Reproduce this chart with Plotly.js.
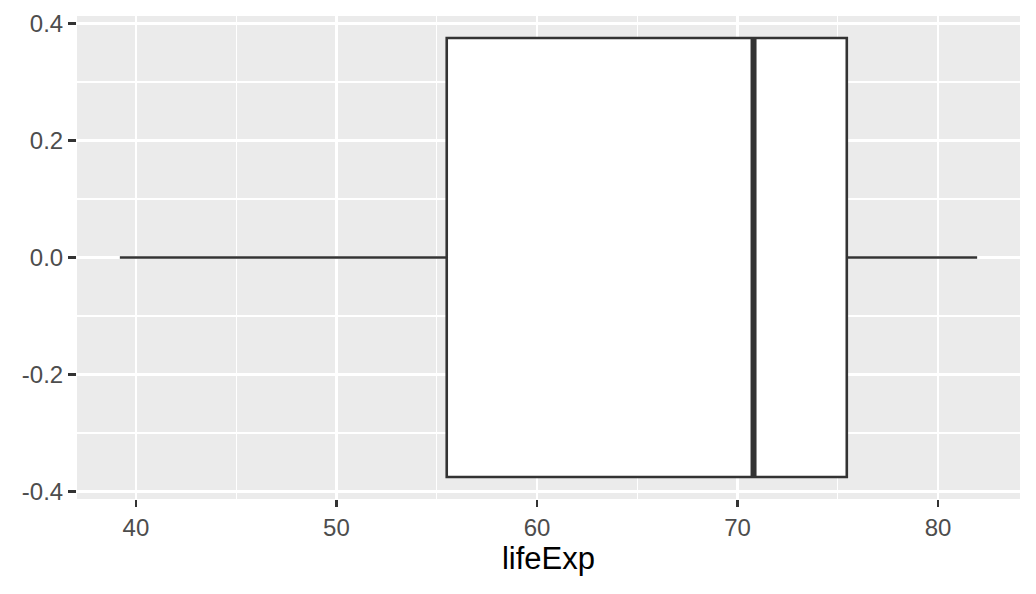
<!DOCTYPE html>
<html>
<head>
<meta charset="utf-8">
<script src="https://cdn.plot.ly/plotly-3.0.1.min.js"></script>
<style>
  html, body { margin: 0; padding: 0; background: #ffffff; }
  #chart { width: 1036px; height: 594px; }
</style>
</head>
<body>
<div id="chart"></div>
<script>
// ---- data ----
const boxPosition = [0];
const lowerFence = [39.2];
const q1 = [55.5];
const median = [70.8];
const q3 = [75.45];
const upperFence = [81.95];

const xTickVals = [40, 50, 60, 70, 80];
const xTickText = ['40', '50', '60', '70', '80'];
const yTickVals = [-0.4, -0.2, 0.0, 0.2, 0.4];
const yTickText = ['-0.4', '-0.2', '0.0', '0.2', '0.4'];
const xTitle = 'lifeExp';

// ---- style ----
const BOX_WIDTH = 0.75;
const LINE_COLOR = '#333333';
const FONT = 'Liberation Sans, Arial, Helvetica, sans-serif';

const boxTrace = {
  type: 'box',
  orientation: 'h',
  y: boxPosition,
  q1: q1,
  median: median,
  q3: q3,
  lowerfence: lowerFence,
  upperfence: upperFence,
  width: BOX_WIDTH,
  whiskerwidth: 0,
  boxpoints: false,
  fillcolor: '#ffffff',
  line: { color: LINE_COLOR, width: 2.6 },
  hoverinfo: 'skip',
  showlegend: false
};

// thicker median line (ggplot fatten)
const medianTrace = {
  type: 'scatter',
  mode: 'lines',
  x: [median[0], median[0]],
  y: [boxPosition[0] - BOX_WIDTH / 2, boxPosition[0] + BOX_WIDTH / 2],
  line: { color: LINE_COLOR, width: 6 },
  hoverinfo: 'skip',
  showlegend: false
};

const xmin = Math.min(...lowerFence), xmax = Math.max(...upperFence);
const xpad = (xmax - xmin) * 0.05;
const ypad = BOX_WIDTH * 0.05;

const layout = {
  width: 1036,
  height: 594,
  margin: { l: 77, r: 16, t: 16, b: 95 },
  paper_bgcolor: '#ffffff',
  plot_bgcolor: '#EBEBEB',
  font: { family: FONT, color: '#4D4D4D', size: 24 },
  xaxis: {
    range: [xmin - xpad, xmax + xpad],
    tickmode: 'array',
    tickvals: xTickVals,
    ticktext: xTickText,
    ticks: 'outside',
    ticklen: 7,
    tickwidth: 2.6,
    tickcolor: LINE_COLOR,
    tickfont: { family: FONT, size: 24, color: '#4D4D4D' },
    showgrid: true,
    gridcolor: '#ffffff',
    gridwidth: 2.6,
    minor: { dtick: 5, tick0: 0, showgrid: true, gridcolor: '#ffffff', gridwidth: 1.3 },
    zeroline: false,
    showline: false,
    title: { text: xTitle, font: { family: FONT, size: 31, color: '#000000' }, standoff: 6 }
  },
  yaxis: {
    range: [-0.375 - ypad, 0.375 + ypad],
    tickmode: 'array',
    tickvals: yTickVals,
    ticktext: yTickText,
    ticks: 'outside',
    ticklen: 8,
    tickwidth: 2.6,
    tickcolor: LINE_COLOR,
    tickfont: { family: FONT, size: 24, color: '#4D4D4D' },
    showgrid: true,
    gridcolor: '#ffffff',
    gridwidth: 2.6,
    minor: { dtick: 0.1, tick0: 0, showgrid: true, gridcolor: '#ffffff', gridwidth: 1.3 },
    zeroline: false,
    showline: false
  },
  hovermode: false
};

Plotly.newPlot('chart', [boxTrace, medianTrace], layout, { displayModeBar: false, staticPlot: true });
</script>
</body>
</html>
